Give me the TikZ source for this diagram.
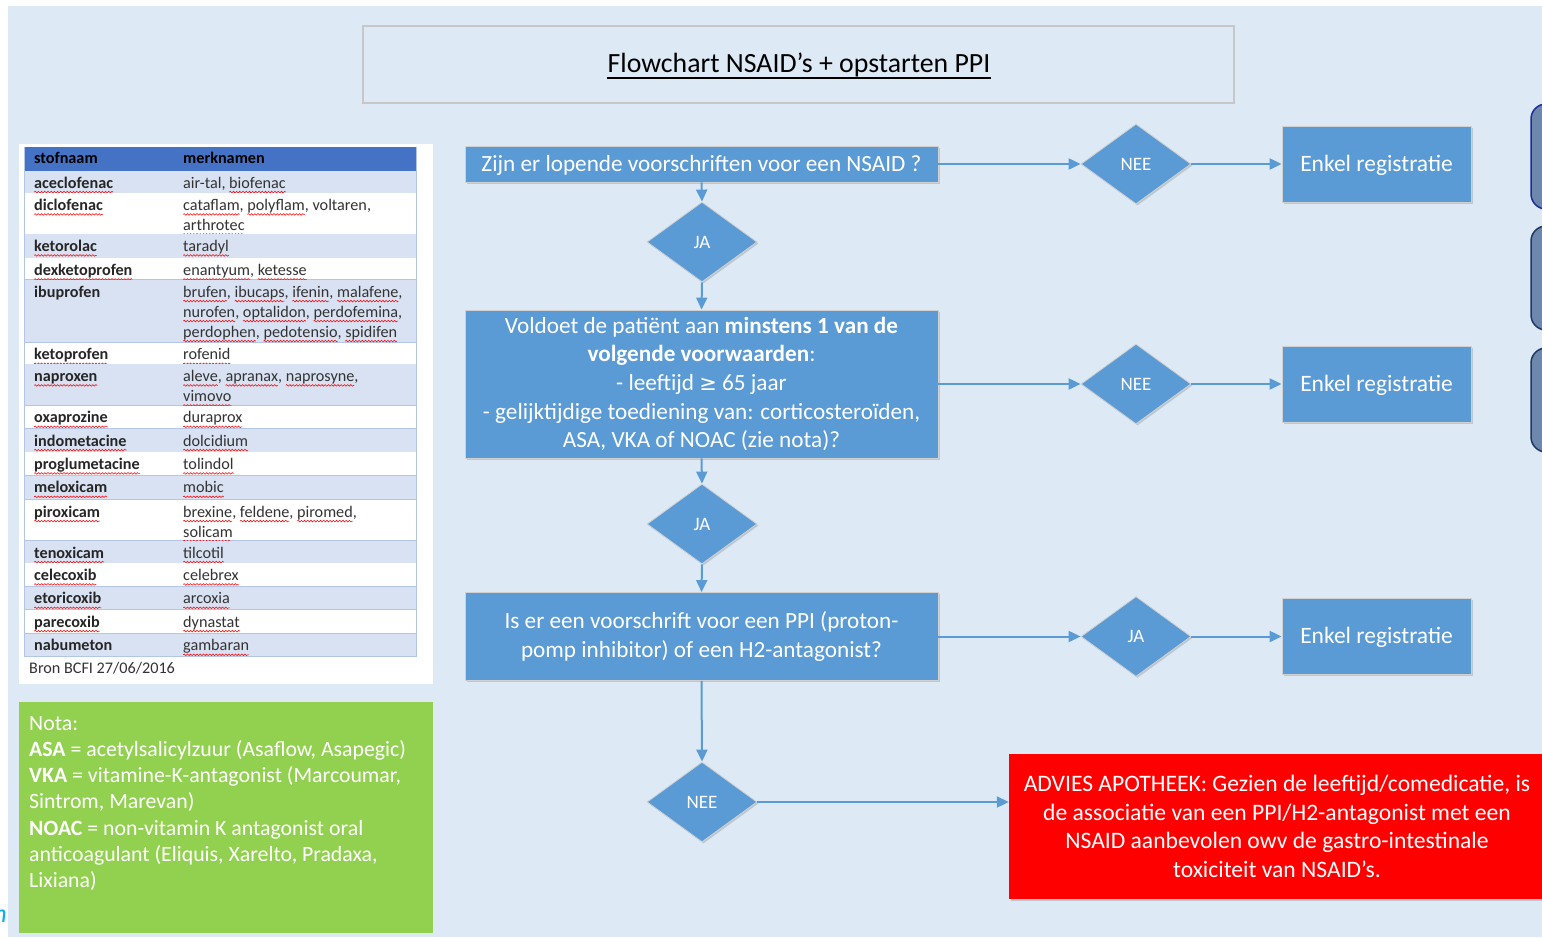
\documentclass[tikz,border=0pt]{standalone}
\usepackage{fontspec}
\setmainfont{Carlito}
\newfontfamily\symfont{DejaVu Sans}
\usetikzlibrary{shapes.geometric,arrows.meta,shadows,decorations.pathmorphing}

\definecolor{bg}{HTML}{DDEAF6}
\definecolor{flowblue}{HTML}{5B9BD5}
\definecolor{thead}{HTML}{4472C4}
\definecolor{tlight}{HTML}{D9E2F3}
\definecolor{tline}{HTML}{B4C6E7}
\definecolor{notagreen}{HTML}{92D050}
\definecolor{alertred}{HTML}{FF0000}
\definecolor{sidefill}{HTML}{6E87AD}
\definecolor{sideline}{HTML}{1F3864}
\definecolor{sideline1}{HTML}{1F2A9C}
\definecolor{cyanC}{HTML}{00B0F0}

\newsavebox\sqbox
\newdimen\sqwd
\newcommand\sq[1]{\sbox\sqbox{#1}\sqwd=\wd\sqbox\rlap{\tikz[x=1pt,y=1pt,baseline=0pt,overlay]\draw[red,line width=0.55pt,decorate,decoration={snake,amplitude=0.8pt,segment length=3.2pt}] (0pt,-3.9pt)--(\sqwd,-3.9pt);}\usebox\sqbox}

\tikzset{
  sh/.style={drop shadow={shadow xshift=1.5pt,shadow yshift=-1.5pt,opacity=.15,fill=black}},
  flowbox/.style={sh,draw=black!18,line width=0.8pt,fill=flowblue,text=white,align=center,inner sep=0pt,
    font=\fontsize{23.2}{28.6}\selectfont},
  dia/.style={sh,diamond,draw=black!18,line width=0.8pt,fill=flowblue,text=white,inner sep=0pt,
    minimum width=110pt,minimum height=80pt,aspect=1.375,font=\fontsize{19}{22}\selectfont},
  endbox/.style={flowbox,minimum width=189pt,minimum height=76pt,text height=19pt,text depth=5pt,font=\fontsize{23.5}{27}\selectfont},
  conn/.style={draw=flowblue,line width=2pt,-{Triangle[length=12pt,width=11pt]}},
  lcell/.style={anchor=north west,inner sep=0pt,align=left,text=black!85,font=\bfseries\fontsize{16.2}{20}\selectfont},
  rcell/.style={anchor=north west,inner sep=0pt,align=left,text=black!80,font=\fontsize{16.2}{20}\selectfont},
  sidebox/.style={fill=sidefill,line width=1.5pt,rounded corners=15pt},
}

\begin{document}
\begin{tikzpicture}[x=1pt,y=-1pt]
\useasboundingbox (0,0) rectangle (1542,937);
\fill[white] (0,0) rectangle (1542,937);
\fill[bg] (8,6) rectangle (1542,937);

% cut-off glyph at bottom left
\node[anchor=base east,inner sep=0pt,text=cyanC,font=\itshape\fontsize{26}{26}\selectfont] (frag) at (7,922) {n};

% title
\node[draw=black!22,line width=1.5pt,fill=bg,minimum width=871pt,minimum height=77pt,inner sep=0pt] (title) at (798.5,64.5) {};
\node[inner sep=0pt,anchor=base,font=\fontsize{27.8}{32}\selectfont] (tt) at (799,72.5) {Flowchart NSAID’s + opstarten PPI};
\draw[line width=1.4pt] ([yshift=-5.5pt]tt.base west) -- ([yshift=-5.5pt]tt.base east);

% table panel
\fill[white] (19,144) rectangle (433,683.5);
\fill[thead] (24.5,146.7) rectangle (416.7,171);
\node[lcell,text=black] (hs) at (34,150) {\rule{0pt}{13pt}stofnaam};
\node[lcell,text=black] (hm) at (183,150) {\rule{0pt}{13pt}merknamen};

\foreach \t/\b/\f/\n/\r [count=\i] in {
  171/193.3/tlight/{\sq{aceclofenac}}/{air-tal, \sq{biofenac}},
  193.3/234.3/white/{\sq{diclofenac}}/{\sq{cataflam}, \sq{polyflam}, voltaren,\\\sq{arthrotec}},
  234.3/258.3/tlight/{\sq{ketorolac}}/{\sq{taradyl}},
  258.3/280/white/{\sq{dexketoprofen}}/{\sq{enantyum}, \sq{ketesse}},
  280/342.7/tlight/{ibuprofen}/{\sq{brufen}, \sq{ibucaps}, \sq{ifenin}, \sq{malafene},\\\sq{nurofen}, \sq{optalidon}, \sq{perdofemina},\\\sq{perdophen}, \sq{pedotensio}, \sq{spidifen}},
  342.7/364.3/white/{\sq{ketoprofen}}/{\sq{rofenid}},
  364.3/405.7/tlight/{\sq{naproxen}}/{\sq{aleve}, \sq{apranax}, \sq{naprosyne},\\\sq{vimovo}},
  405.7/429/white/{\sq{oxaprozine}}/{\sq{duraprox}},
  429/452.3/tlight/{\sq{indometacine}}/{\sq{dolcidium}},
  452.3/475.7/white/{\sq{proglumetacine}}/{\sq{tolindol}},
  475.7/500/tlight/{\sq{meloxicam}}/{\sq{mobic}},
  500/541/white/{\sq{piroxicam}}/{\sq{brexine}, \sq{feldene}, \sq{piromed},\\\sq{solicam}},
  541/563.3/tlight/{\sq{tenoxicam}}/{\sq{tilcotil}},
  563.3/586.7/white/{\sq{celecoxib}}/{\sq{celebrex}},
  586.7/610/tlight/{\sq{etoricoxib}}/{\sq{arcoxia}},
  610/633.7/white/{\sq{parecoxib}}/{\sq{dynastat}},
  633.7/656.7/tlight/{nabumeton}/{\sq{gambaran}}} {
  \fill[\f] (24.5,\t) rectangle (416.7,\b);
  \draw[tline,line width=1.2pt] (24.5,\b) -- (416.7,\b);
  \node[lcell] (tn\i) at (34,\t+4) {\rule{0pt}{13pt}\n};
  \node[rcell] (tb\i) at (183,\t+4) {\rule{0pt}{13pt}\r};
}
\draw[tline,line width=1.2pt] (24.5,146.7) -- (24.5,656.7) (416.7,146.7) -- (416.7,656.7);
\node[anchor=base west,inner sep=0pt,text=black!80,font=\fontsize{16.2}{20}\selectfont] (bron) at (29,673) {Bron BCFI 27/06/2016};

% nota box
\fill[notagreen] (19,702) rectangle (433,933);
\node[anchor=north west,inner sep=0pt,align=left,text=white,font=\fontsize{21.8}{26.2}\selectfont] (nota) at (29,714)
  {\rule{0pt}{16pt}Nota:\\
   \textbf{ASA} = acetylsalicylzuur (Asaflow, Asapegic)\\
   \textbf{VKA} = vitamine-K-antagonist (Marcoumar,\\
   Sintrom, Marevan)\\
   \textbf{NOAC} = non-vitamin K antagonist oral\\
   anticoagulant (Eliquis, Xarelto, Pradaxa,\\
   Lixiana)};

% side boxes (cut off at right edge)
\draw[sidebox,draw=sideline1] (1531,104) rectangle (1620,209);
\draw[sidebox,draw=sideline] (1531,226) rectangle (1620,330);
\draw[sidebox,draw=sideline] (1531,348) rectangle (1620,452);

% flow
\node[flowbox,minimum width=473pt,minimum height=36pt,text height=19pt,text depth=5pt] (b1) at (701.5,164) {Zijn er lopende voorschriften voor een NSAID ?};
\node[dia] (d1) at (702,242) {JA};
\node[flowbox,minimum width=473pt,minimum height=148pt] (b2) at (701.5,384)
  {Voldoet de patiënt aan \textbf{minstens 1 van de}\\
   \textbf{volgende voorwaarden}:\\
   - leeftijd {\symfont\fontsize{21}{28.6}\selectfont ≥} 65 jaar\\
   - gelijktijdige toediening van: corticosteroïden,\\
   ASA, VKA of NOAC (zie nota)?};
\node[dia] (d2) at (702,524) {JA};
\node[flowbox,minimum width=473pt,minimum height=88pt] (b3) at (701.5,636.5)
  {Is er een voorschrift voor een PPI (proton-\\pomp inhibitor) of een H2-antagonist?};
\node[dia] (d3) at (702,802) {NEE};

\node[dia] (n1) at (1136,164) {NEE};
\node[dia] (n2) at (1136,384) {NEE};
\node[dia] (n3) at (1136,636.5) {JA};

\node[endbox] (e1) at (1376.5,164) {Enkel registratie};
\node[endbox] (e2) at (1376.5,384) {Enkel registratie};
\node[endbox] (e3) at (1376.5,636.5) {Enkel registratie};

\node[sh,fill=alertred,text=white,align=center,inner sep=0pt,minimum width=536pt,minimum height=145pt,
  font=\fontsize{23.6}{28.5}\selectfont] (red) at (1277,826.5)
  {ADVIES APOTHEEK: Gezien de leeftijd/comedicatie, is\\
   de associatie van een PPI/H2-antagonist met een\\
   NSAID aanbevolen owv de gastro-intestinale\\
   toxiciteit van NSAID’s.};

\draw[conn] (b1.east) -- (n1.west);
\draw[conn] (n1.east) -- (e1.west);
\draw[conn] (b1.south) -- (d1.north);
\draw[conn] (d1.south) -- (b2.north);
\draw[conn] (b2.east) -- (n2.west);
\draw[conn] (n2.east) -- (e2.west);
\draw[conn] (b2.south) -- (d2.north);
\draw[conn] (d2.south) -- (b3.north);
\draw[conn] (b3.east) -- (n3.west);
\draw[conn] (n3.east) -- (e3.west);
\draw[conn] (b3.south) -- (d3.north);
\draw[conn] (d3.east) -- (d3.east -| red.west);
\end{tikzpicture}
\end{document}
